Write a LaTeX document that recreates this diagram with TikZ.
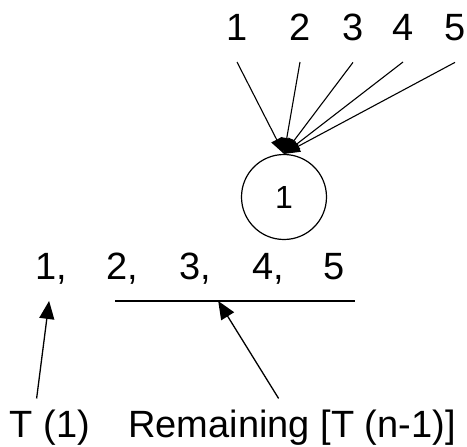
\documentclass[tikz,border=0pt]{standalone}
\usepackage{fontspec}
\setmainfont{Liberation Sans}
\usetikzlibrary{arrows.meta, calc}

\begin{document}
\begin{tikzpicture}[x=1pt, y=-1pt,
    digit/.style={font=\fontsize{38}{40}\selectfont, inner sep=2pt, anchor=base},
    feed/.style={line width=1.1pt, -{Triangle[length=16pt,width=12pt]}},
    pointer/.style={line width=1.3pt, -{Triangle[length=18pt,width=15pt]}}]
  \useasboundingbox (0,0) rectangle (467,447);
  % elements coming in
  \foreach \n/\x in {1/237, 2/300, 3/353, 4/403, 5/455}
    \node[digit, outer ysep=20pt] (t\n) at (\x,40) {\n};
  \node[draw, circle, line width=1.2pt, minimum size=85pt, inner sep=0pt,
        font=\fontsize{32}{34}\selectfont] (root) at (284,197) {1};
  \foreach \n in {1,...,5}
    \draw[feed] (t\n.south) -- (root.north);
  % the sequence
  \node[digit] (b1) at (51,279) {1,};
  \node[digit] (b2) at (122,279) {2,};
  \node[digit] (b3) at (195,279) {3,};
  \node[digit] (b4) at (268,279) {4,};
  \node[digit] (b5) at (334,279) {5};
  \coordinate (restL) at (115,301);
  \coordinate (restR) at (355,301);
  \coordinate (restM) at ($(restL)!0.43!(restR)$);
  \draw[line width=1.3pt] (restL) -- (restR);
  % labels
  \node[digit, outer ysep=9pt] (tone) at (50,437) {T (1)};
  \node[digit, outer ysep=9pt] (rest) at (292,437) {Remaining [T (n-1)]};
  \draw[pointer, shorten >=15pt] (tone.115) -- (b1.south);
  \draw[pointer] (rest.115) -- (restM);
\end{tikzpicture}
\end{document}
